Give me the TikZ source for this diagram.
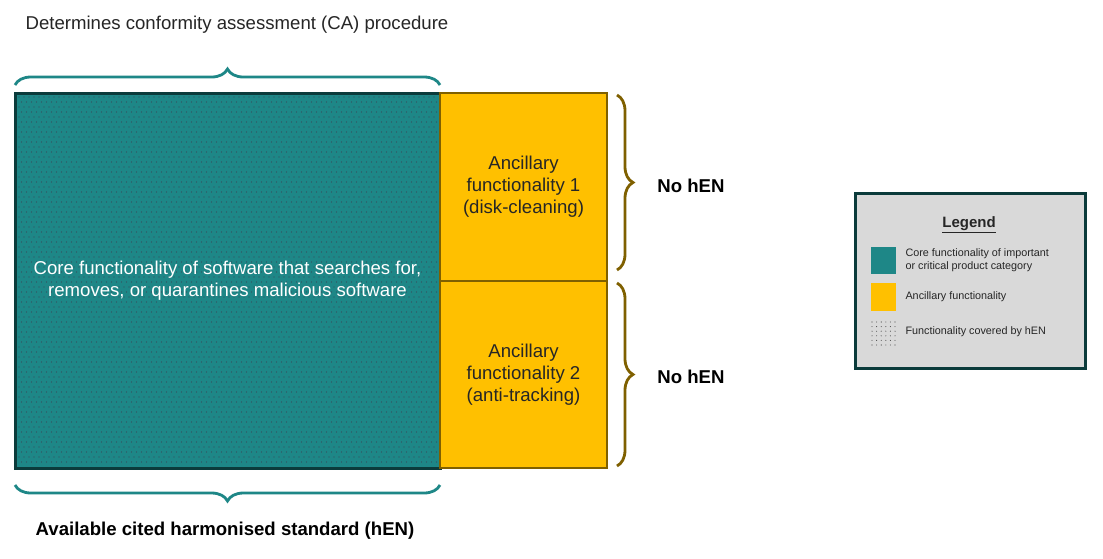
\documentclass[tikz,border=0pt]{standalone}
\usepackage{fontspec}
\setmainfont{Liberation Sans}
\usetikzlibrary{decorations.pathreplacing}
\definecolor{teal1}{HTML}{1E8787}
\definecolor{darkb}{HTML}{0B3B3B}
\definecolor{yel}{HTML}{FFC000}
\definecolor{brn}{HTML}{7F6000}
\definecolor{lgr}{HTML}{D9D9D9}
\definecolor{txt}{HTML}{262626}
\definecolor{dotc}{HTML}{3A4A5A}
\begin{document}
\begin{tikzpicture}[x=1pt,y=-1pt,
  bracestyle/.style={decorate,decoration={brace,amplitude=16pt},line width=2.8pt},
  lbl/.style={font=\fontsize{18.6}{22}\selectfont,text=txt,align=center},
  blbl/.style={font=\fontsize{18.6}{22}\selectfont\bfseries,text=black},
  sm/.style={font=\fontsize{10.8}{13}\selectfont,text=txt,anchor=west,align=left}]
\useasboundingbox (0,0) rectangle (1103,558);
\fill[white] (0,0) rectangle (1103,558);
% core
\draw[fill=teal1,draw=darkb,line width=3pt] (15,93) rectangle (440,468);
\foreach \i in {0,...,83} {\foreach \j in {0,...,73} {
  \fill[dotc] ({19+\i*5+mod(\j,2)*2.5},{97+\j*5}) circle (0.7);}}
\node[lbl,text=white] (core) at (227.5,281) {Core functionality of software that searches for,\\removes, or quarantines malicious software};
\coordinate (cTL) at (15,85); \coordinate (cTR) at (440,85);
\coordinate (cBL) at (15,485); \coordinate (cBR) at (440,485);
% ancillary
\draw[fill=yel,draw=brn,line width=2.6pt] (440,93) rectangle (607,281);
\draw[fill=yel,draw=brn,line width=2.6pt] (440,281) rectangle (607,468);
\node[lbl] (a1) at (523.5,187) {Ancillary\\functionality 1\\(disk-cleaning)};
\node[lbl] (a2) at (523.5,375) {Ancillary\\functionality 2\\(anti-tracking)};
% braces
\draw[bracestyle,teal1] (cTL) -- (cTR);
\draw[bracestyle,teal1] (cBR) -- (cBL);
\draw[bracestyle,brn] (617,95) -- (617,270);
\draw[bracestyle,brn] (617,283) -- (617,466);
\node[lbl] (top) at (237,25) {Determines conformity assessment (CA) procedure};
\node[blbl] (bot) at (225,531) {Available cited harmonised standard (hEN)};
\node[blbl] (n1) at (691,186) {No hEN};
\node[blbl] (n2) at (691,377) {No hEN};
% legend
\draw[fill=lgr,draw=darkb,line width=3pt] (855,193) rectangle (1085,368);
\node[font=\fontsize{15}{17}\selectfont\bfseries,text=txt] (lt) at (969,225) {\underline{Legend}};
\fill[teal1] (871,247) rectangle (896,274);
\node[sm] (l1) at (902,260) {Core functionality of important\\or critical product category};
\fill[yel] (871,283) rectangle (896,311);
\node[sm] (l2) at (902,297) {Ancillary functionality};
\foreach \i in {0,...,5} {\foreach \j in {0,...,5} {
  \fill[black!70] ({872+\i*4.6},{322+\j*4.6}) circle (0.55);}}
\node[sm] (l3) at (902,332) {Functionality covered by hEN};
\end{tikzpicture}
\end{document}
